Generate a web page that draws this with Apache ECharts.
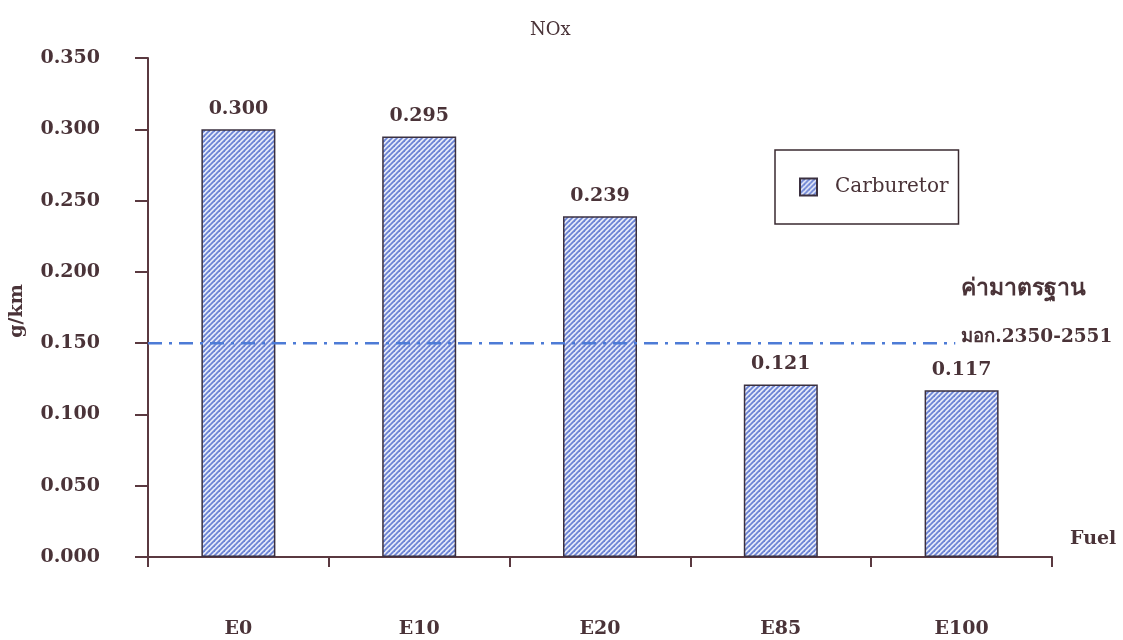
<!DOCTYPE html>
<html>
<head>
<meta charset="utf-8">
<script src="https://cdn.jsdelivr.net/npm/echarts@6/dist/echarts.min.js"></script>
<style>
html,body{margin:0;padding:0;background:#fff;}
#chart{width:1123px;height:640px;}
</style>
</head>
<body>
<div id="chart"></div>
<script>
// ---- data ----
const categories = ['E0', 'E10', 'E20', 'E85', 'E100'];
const noxValues = [0.300, 0.295, 0.239, 0.121, 0.117];
const seriesName = 'Carburetor';
const standardValue = 0.150;
const standardLineEnd = 0.893; // fraction of plot width where the standard line stops
const standardLabel1 = 'ค่ามาตรฐาน';
const standardLabel2 = 'มอก.2350-2551';
const yMin = 0, yMax = 0.35, yStep = 0.05;

// ---- hatch pattern ----
function makeHatch() {
  const c = document.createElement('canvas');
  const s = 5;
  c.width = s; c.height = s;
  const g = c.getContext('2d');
  g.fillStyle = '#e6eaf9';
  g.fillRect(0, 0, s, s);
  g.strokeStyle = '#6b83d4';
  g.lineWidth = 1.8;
  [0, s, 2 * s].forEach(function (k) {
    g.beginPath();
    g.moveTo(k - s - 1, s + 1);
    g.lineTo(k + 1, -1);
    g.stroke();
  });
  return c;
}
const hatch = makeHatch();

const txt = '#4a3338';
const axisCol = '#5a3940';
const font = "'DejaVu Serif', 'Liberation Serif', serif";

const chart = echarts.init(document.getElementById('chart'), null, {renderer: 'canvas'});
chart.setOption({
  animation: false,
  backgroundColor: '#fff',
  title: {
    text: 'NOx',
    left: 525, top: 16,
    textStyle: {fontFamily: font, fontSize: 18, fontWeight: 'normal', color: txt}
  },
  legend: {
    data: [seriesName],
    left: 775, top: 150,
    padding: [27, 10, 27, 24],
    borderColor: '#3a2a30', borderWidth: 1.5,
    icon: 'rect',
    itemWidth: 17, itemHeight: 17, itemGap: 6,
    textStyle: {fontFamily: font, fontSize: 20, color: txt, padding: [0, 0, 0, 13]}
  },
  grid: {left: 148, right: 71, top: 58, bottom: 83, containLabel: false},
  xAxis: [{
    type: 'category',
    data: categories,
    axisLine: {lineStyle: {color: axisCol, width: 2}},
    axisTick: {show: true, length: 10, inside: false, lineStyle: {color: axisCol, width: 2}},
    axisLabel: {margin: 63, fontFamily: font, fontSize: 19, fontWeight: 'bold', color: txt},
    name: 'Fuel', nameLocation: 'end', nameGap: 18,
    nameTextStyle: {fontFamily: font, fontSize: 19, fontWeight: 'bold', color: txt, verticalAlign: 'bottom', padding: [0, 0, 8, 0]}
  }, {
    type: 'value', min: 0, max: 1, show: false
  }],
  yAxis: {
    type: 'value',
    min: yMin, max: yMax, interval: yStep,
    axisLine: {show: true, lineStyle: {color: axisCol, width: 2}},
    axisTick: {show: true, length: 13, lineStyle: {color: axisCol, width: 2}},
    splitLine: {show: false},
    axisLabel: {
      margin: 48, fontFamily: font, fontSize: 19, fontWeight: 'bold', color: txt,
      formatter: function (v) { return v.toFixed(3); }
    }
  },
  graphic: [{
    type: 'text',
    x: 17, y: 311, rotation: Math.PI / 2,
    style: {text: 'g/km', fontFamily: font, fontSize: 19, fontWeight: 'bold', fill: txt, align: 'center', verticalAlign: 'middle'}
  }],
  series: [{
    name: seriesName,
    type: 'bar',
    xAxisIndex: 0,
    data: noxValues,
    barWidth: 74,
    itemStyle: {
      color: {image: hatch, repeat: 'repeat'},
      borderColor: '#3b3040', borderWidth: 1.5
    },
    label: {
      show: true, position: 'top', distance: 11,
      fontFamily: font, fontSize: 19, fontWeight: 'bold', color: txt,
      formatter: function (p) { return p.value.toFixed(3); }
    }
  }, {
    name: 'standard',
    type: 'line',
    xAxisIndex: 1,
    data: [[0, standardValue], [standardLineEnd, standardValue]],
    showSymbol: false, symbol: 'none',
    lineStyle: {color: '#4d7bd6', width: 2.5, type: [14, 7, 3, 7]},
    silent: true,
    z: 5,
    endLabel: {
      show: true,
      distance: 6,
      formatter: '{a|' + standardLabel1 + '}\n{gap|}\n{b|' + standardLabel2 + '}',
      offset: [0, -30],
      color: txt,
      rich: {
        a: {fontFamily: font, fontSize: 23, fontWeight: 'bold', color: txt, lineHeight: 24},
        gap: {lineHeight: 24},
        b: {fontFamily: font, fontSize: 18.5, fontWeight: 'bold', color: txt, lineHeight: 24}
      }
    }
  }]
});
</script>
</body>
</html>
